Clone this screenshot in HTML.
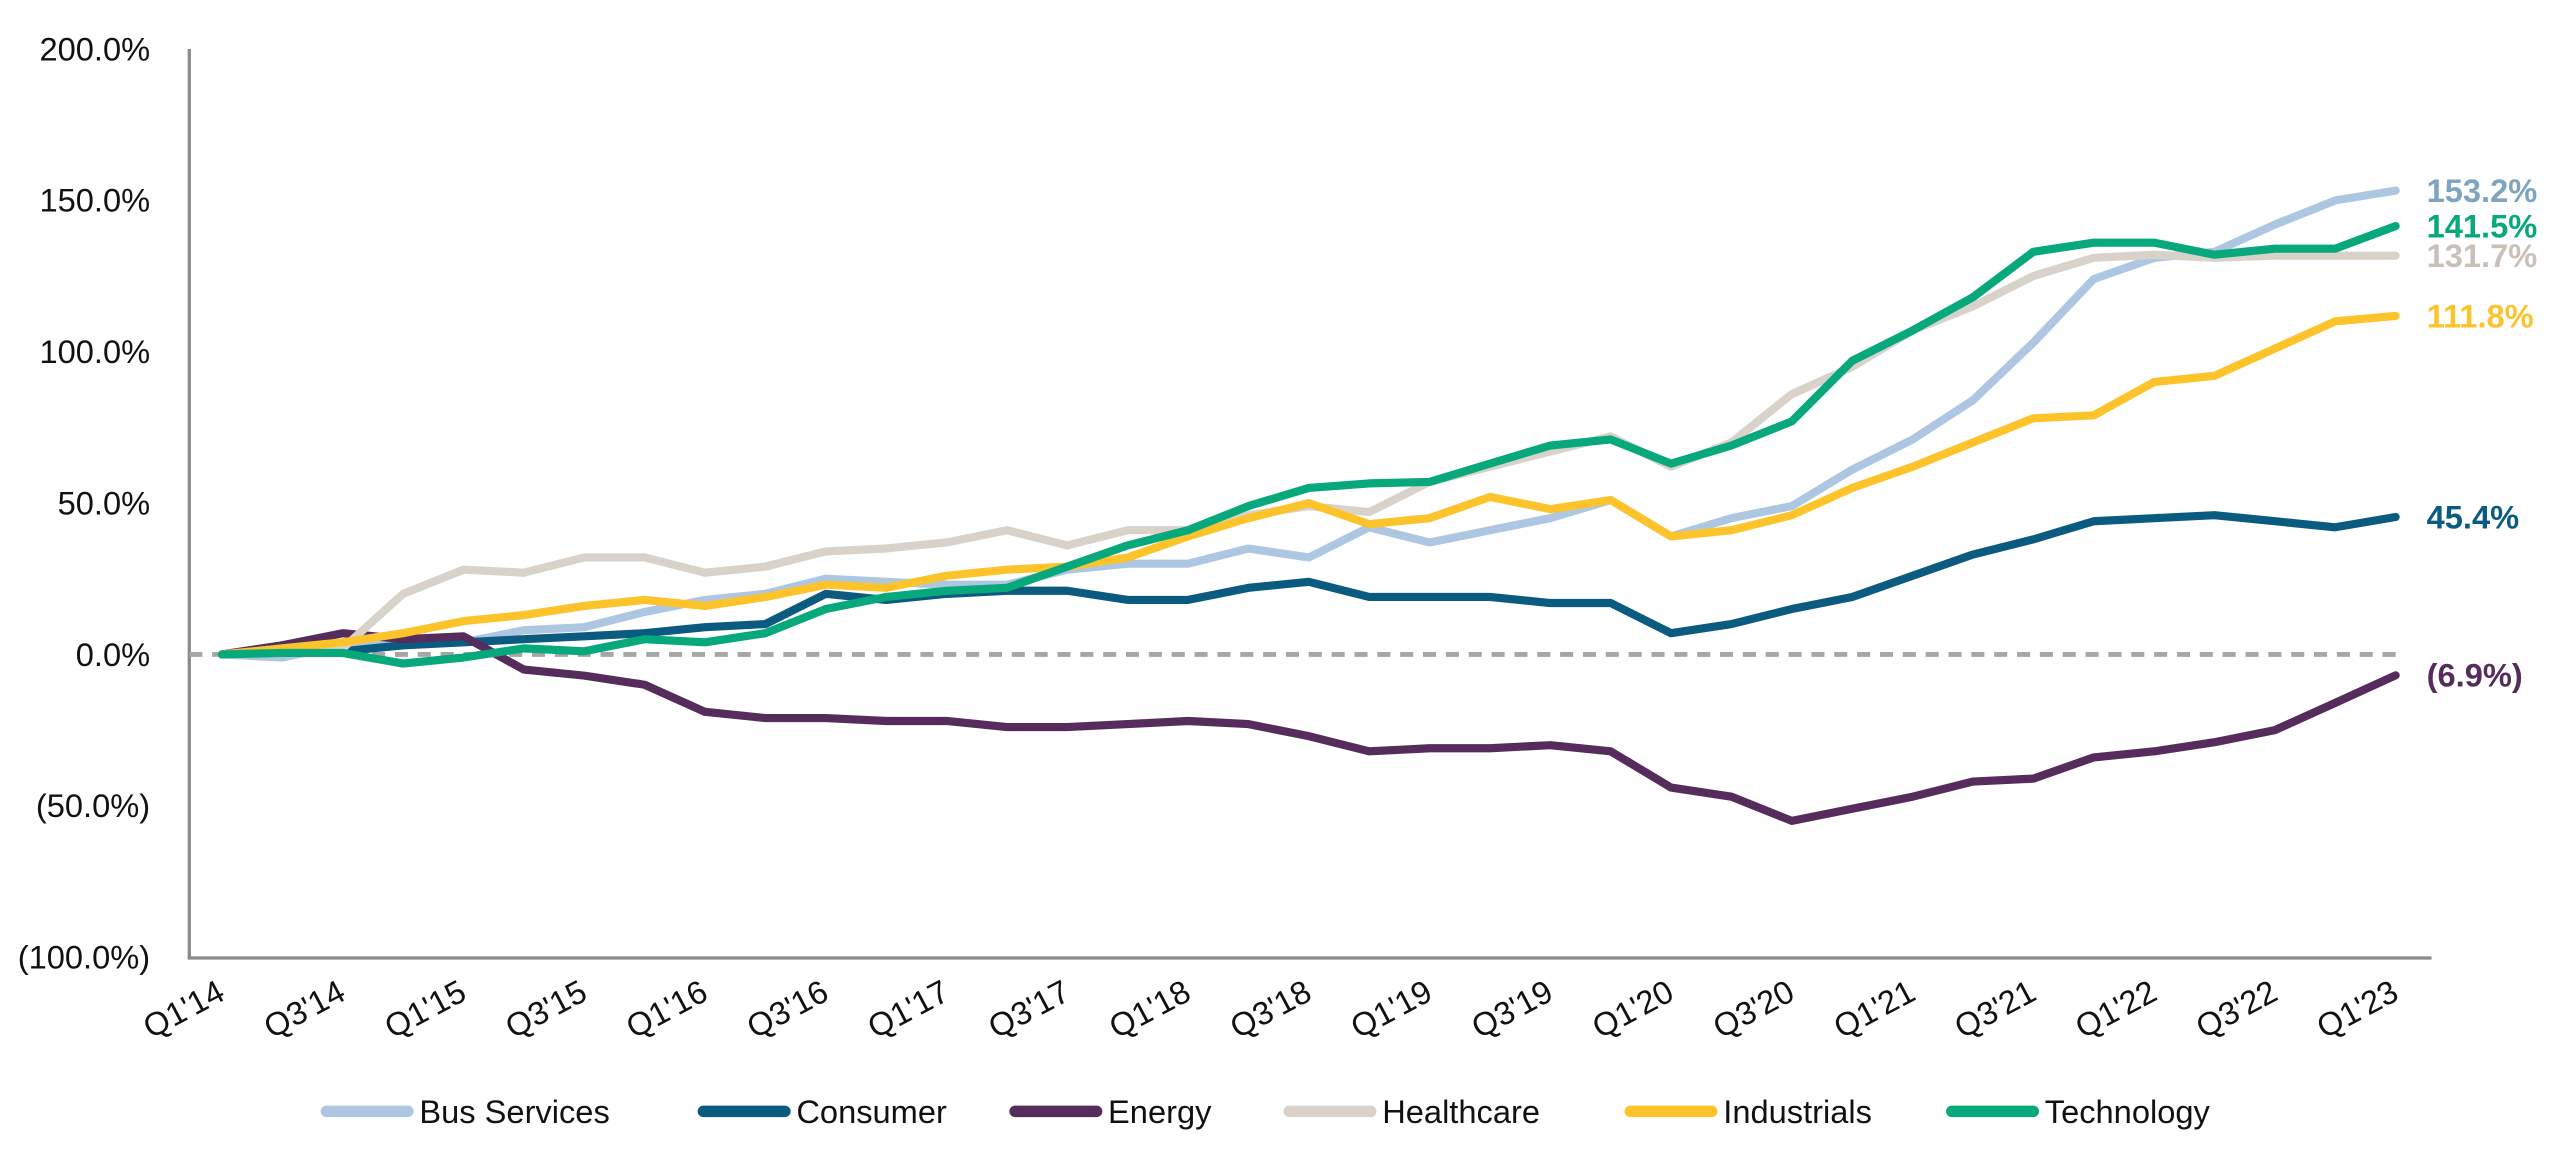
<!DOCTYPE html>
<html><head><meta charset="utf-8"><style>
html,body{margin:0;padding:0;background:#fff;}
svg{display:block;font-family:"Liberation Sans",sans-serif;}
</style></head><body>
<svg id="chart" width="2558" height="1175" viewBox="0 0 1567.5 720" preserveAspectRatio="none" xmlns="http://www.w3.org/2000/svg">
<g id="axes"></g>
<g id="series"></g>
<g id="labels"></g>
<g id="legend"></g>
</svg>
<script>
const categories = ["Q1'14","Q2'14","Q3'14","Q4'14","Q1'15","Q2'15","Q3'15","Q4'15","Q1'16","Q2'16","Q3'16","Q4'16","Q1'17","Q2'17","Q3'17","Q4'17","Q1'18","Q2'18","Q3'18","Q4'18","Q1'19","Q2'19","Q3'19","Q4'19","Q1'20","Q2'20","Q3'20","Q4'20","Q1'21","Q2'21","Q3'21","Q4'21","Q1'22","Q2'22","Q3'22","Q4'22","Q1'23"];
const seriesNames = ["Bus Services","Consumer","Energy","Healthcare","Industrials","Technology"];
const busServices = [0,-1,3,3,4,8,9,14,18,20,25,24,23,23,28,30,30,35,32,42,37,41,45,51,39,45,49,61,71,84,103,124,131,133,142,150,153.2];
const consumer = [0,1,1,3,4,5,6,7,9,10,20,18,20,21,21,18,18,22,24,19,19,19,17,17,7,10,15,19,26,33,38,44,45,46,44,42,45.4];
const energy = [0,3,7,5,6,-5,-7,-10,-19,-21,-21,-22,-22,-24,-24,-23,-22,-23,-27,-32,-31,-31,-30,-32,-44,-47,-55,-51,-47,-42,-41,-34,-32,-29,-25,-16,-6.9];
const healthcare = [0,1,2,20,28,27,32,32,27,29,34,35,37,41,36,41,41,46,49,47,57,62,67,72,62,70,86,95,107,115,125,131,132,131,131.7,131.7,131.7];
const industrials = [0,2,4,7,11,13,16,18,16,19,23,22,26,28,29,32,39,45,50,43,45,52,48,51,39,41,46,55,62,70,78,79,90,92,101,110,111.8];
const technology = [0,0.5,0.5,-3,-1,2,1,5,4,7,15,19,21,22,29,36,41,49,55,56.5,57,63,69,71,63,69,77,97,107,118,133,136,136,132,134,134,141.5];
const yTicks = [200,150,100,50,0,-50,-100];
const yTickLabels = ["200.0%","150.0%","100.0%","50.0%","0.0%","(50.0%)","(100.0%)"];
const endLabels = ["153.2%","45.4%","(6.9%)","131.7%","111.8%","141.5%"];

const colors = ["#adc7e2","#0b5a80","#562c5c","#d8d2cb","#fdc32b","#07a87c"];
const labelColors = ["#7ea4bf","#0b5a80","#562c5c","#c9c1b7","#fdc32b","#07a87c"];
const allSeries = [busServices,consumer,energy,healthcare,industrials,technology];
const NS="http://www.w3.org/2000/svg";
const x0=136, x1=1468;
function xs(i){return x0+(x1-x0)*i/(categories.length-1);}
function ys(v){return 401-v*(401-30)/200;}
function mk(tag,attrs,parent){const e=document.createElementNS(NS,tag);for(const k in attrs)e.setAttribute(k,attrs[k]);parent.appendChild(e);return e;}

const axes=document.getElementById('axes');
let yl=mk('line',{x1:116,y1:30,x2:116,y2:587,stroke:'#8a8a8a','stroke-width':2},axes);


let xl=mk('line',{x1:115,y1:587,x2:1490,y2:587,stroke:'#8a8a8a','stroke-width':2},axes);


let zl=mk('line',{x1:116,y1:ys(0),x2:1468,y2:ys(0),stroke:'#a6a6a6','stroke-width':3,'stroke-dasharray':'8 6'},axes);


yTicks.forEach((v,i)=>{
  const t=mk('text',{x:92,y:ys(v)+7,'text-anchor':'end','font-size':20,fill:'#111'},axes);
  t.textContent=yTickLabels[i];
  
  
});
categories.forEach((c,i)=>{
  if(i%2)return;
  const x=xs(i)+3, y=612;
  const t=mk('text',{x:x,y:y,'text-anchor':'end','font-size':20,fill:'#111',transform:`rotate(-28 ${x} ${y})`},axes);
  t.textContent=c;
  
  
});

const sg=document.getElementById('series');
allSeries.forEach((arr,s)=>{
  const d=arr.map((v,i)=>(i?'L':'M')+xs(i).toFixed(1)+' '+ys(v).toFixed(1)).join(' ');
  const p=mk('path',{d:d,fill:'none',stroke:colors[s],'stroke-width':5,'stroke-linejoin':'round','stroke-linecap':'round'},sg);
  
  
});

const lg=document.getElementById('labels');
allSeries.forEach((arr,s)=>{
  const v=arr[arr.length-1];
  const t=mk('text',{x:1487,y:ys(v)+7,'font-size':20,'font-weight':'bold',fill:labelColors[s]},lg);
  t.textContent=endLabels[s];
  
  
});

const leg=document.getElementById('legend');
const legX=[200,431,622,790,999,1196];
seriesNames.forEach((n,s)=>{
  const g=mk('g',{},leg);
  
  
  mk('line',{x1:legX[s],y1:681,x2:legX[s]+50,y2:681,stroke:colors[s],'stroke-width':7,'stroke-linecap':'round'},g);
  const t=mk('text',{x:legX[s]+57,y:688,'font-size':20,fill:'#111'},g);
  t.textContent=n;
});
</script>
</body></html>
